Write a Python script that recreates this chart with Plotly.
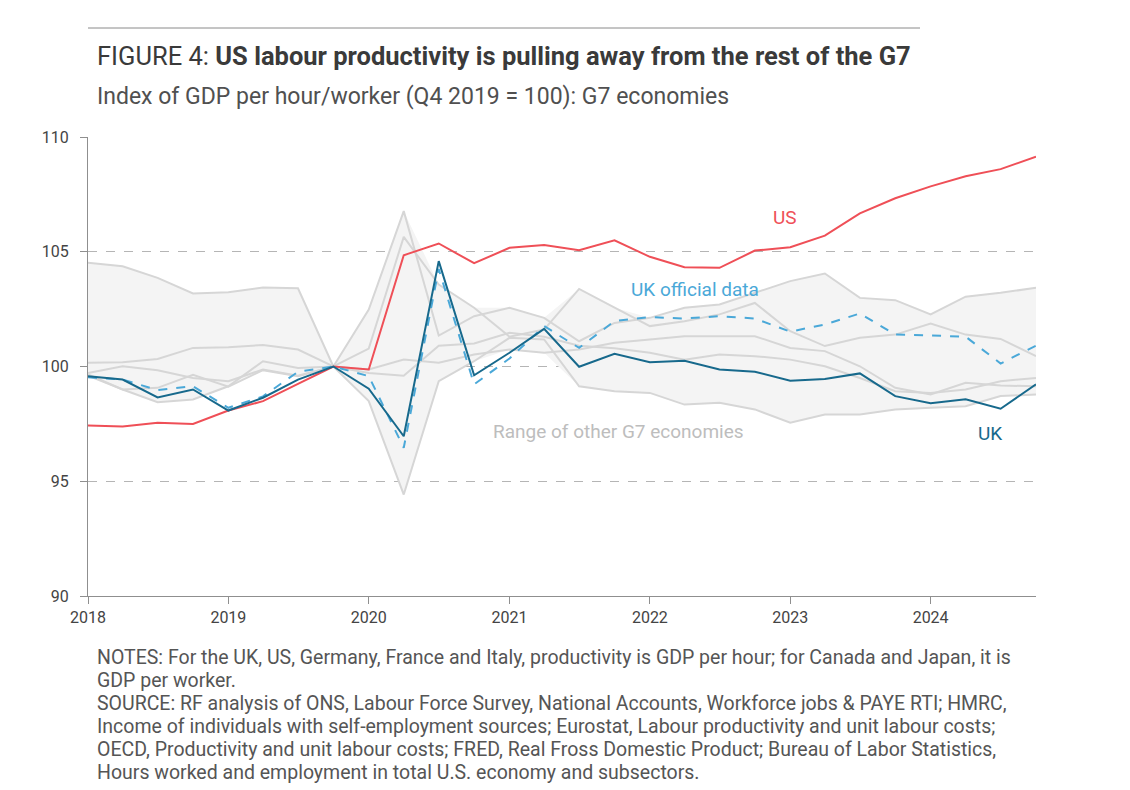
import numpy as np
import pandas as pd
import plotly.graph_objects as go

quarters = ["2018Q1","2018Q2","2018Q3","2018Q4","2019Q1","2019Q2","2019Q3","2019Q4",
            "2020Q1","2020Q2","2020Q3","2020Q4","2021Q1","2021Q2","2021Q3","2021Q4",
            "2022Q1","2022Q2","2022Q3","2022Q4","2023Q1","2023Q2","2023Q3","2023Q4",
            "2024Q1","2024Q2","2024Q3","2024Q4"]

us = [97.43,97.39,97.55,97.50,98.08,98.49,99.24,100.0,
      99.87,104.85,105.36,104.50,105.17,105.29,105.07,105.50,
      104.78,104.33,104.30,105.05,105.20,105.70,106.67,107.33,
      107.85,108.29,108.60,109.14]

uk = [99.58,99.43,98.65,99.00,98.08,98.64,99.43,100.0,
      99.03,96.96,104.59,99.62,100.60,101.64,99.99,100.55,
      100.19,100.25,99.87,99.77,99.38,99.46,99.70,98.71,
      98.40,98.57,98.16,99.22]

uk_official = [99.53,99.43,98.97,99.14,98.20,98.70,99.77,100.0,
               99.58,96.46,104.25,99.22,100.35,101.76,100.81,101.98,
               102.15,102.09,102.19,102.09,101.52,101.83,102.31,101.39,
               101.35,101.30,100.13,100.91]

other_a = [104.52,104.37,103.86,103.18,103.24,103.44,103.41,100.0,
           102.48,106.77,101.35,102.19,102.56,102.12,101.10,101.90,
           102.12,102.56,102.70,103.21,103.72,104.05,102.99,102.89,
           102.27,103.04,103.21,103.43]
other_b = [100.16,100.19,100.33,100.81,100.84,100.94,100.74,100.0,
           100.78,105.65,103.57,102.56,101.30,101.61,103.38,102.56,
           101.76,101.97,102.27,102.77,101.54,100.89,101.25,101.39,
           101.87,101.39,101.20,100.45]
other_c = [99.72,100.01,99.84,99.50,99.36,99.87,99.60,100.0,
           99.87,100.30,100.16,100.52,100.74,100.60,100.74,101.03,
           101.18,101.32,101.32,101.32,100.81,100.67,100.01,99.07,
           98.78,99.29,99.17,99.14]
other_d = [99.65,99.00,98.44,98.56,99.14,100.23,99.94,100.0,
           98.49,94.42,99.36,100.23,101.25,101.18,99.14,98.92,
           98.85,98.34,98.42,98.13,97.55,97.91,97.91,98.13,
           98.20,98.27,98.71,98.78]
other_e = [99.60,99.00,99.07,99.64,99.12,99.84,99.58,100.0,
           99.72,99.60,100.90,101.00,101.47,101.30,100.90,100.80,
           100.60,100.30,100.52,100.45,100.30,100.01,99.50,98.92,
           98.85,99.00,99.36,99.50]

year_ticks = [2018, 2019, 2020, 2021, 2022, 2023, 2024]
y_ticks = [90, 95, 100, 105, 110]

x = pd.PeriodIndex(quarters, freq="Q").to_timestamp()
others = np.array([other_a, other_b, other_c, other_d, other_e])
rng_max = others.max(axis=0)
rng_min = others.min(axis=0)

RED = "#ef4f57"
TEAL = "#17698c"
LBLUE = "#4aa8d8"
GREY_LINE = "#d6d6d6"
GREY_FILL = "#f4f4f4"
TXT = "#444444"
FONT = "Roboto"

fig = go.Figure()
fig.add_trace(go.Scatter(x=x, y=rng_max, mode="lines", line=dict(width=0), hoverinfo="skip", showlegend=False))
fig.add_trace(go.Scatter(x=x, y=rng_min, mode="lines", line=dict(width=0), fill="tonexty",
                         fillcolor=GREY_FILL, hoverinfo="skip", showlegend=False))
for s in others:
    fig.add_trace(go.Scatter(x=x, y=s, mode="lines", line=dict(color=GREY_LINE, width=2),
                             hoverinfo="skip", showlegend=False))
fig.add_trace(go.Scatter(x=x, y=us, mode="lines", line=dict(color=RED, width=2), showlegend=False))
fig.add_trace(go.Scatter(x=x, y=uk_official, mode="lines", line=dict(color=LBLUE, width=2, dash="dash"), showlegend=False))
fig.add_trace(go.Scatter(x=x, y=uk, mode="lines", line=dict(color=TEAL, width=2), showlegend=False))

W, H = 1130, 790
L, R, T, B = 88, 1036, 137, 596

def px(xp):
    return (xp - L) / (R - L)

def py(yp):
    return (B - yp) / (B - T)

ann = []
ann.append(dict(x=px(95), y=py(56), xref="paper", yref="paper", xanchor="left", yanchor="middle",
                text="FIGURE 4: <b>US labour productivity is pulling away from the rest of the G7</b>",
                showarrow=False, font=dict(family=FONT, size=25.5, color="#3a3a3a")))
ann.append(dict(x=px(95), y=py(97), xref="paper", yref="paper", xanchor="left", yanchor="middle",
                text="Index of GDP per hour/worker (Q4 2019 = 100): G7 economies",
                showarrow=False, font=dict(family=FONT, size=23, color="#505050")))
labels = [("US", 785, 217, RED), ("UK official data", 695, 289, LBLUE),
          ("Range of other G7 economies", 618, 431, "#bdbdbd"), ("UK", 990, 434, TEAL)]
for txt, lx, ly, col in labels:
    ann.append(dict(x=px(lx), y=py(ly), xref="paper", yref="paper", xanchor="center", yanchor="middle",
                    text=txt, showarrow=False, font=dict(family=FONT, size=19, color=col)))

notes = [
    "NOTES: For the UK, US, Germany, France and Italy, productivity is GDP per hour; for Canada and Japan, it is",
    "GDP per worker.",
    "SOURCE: RF analysis of ONS, Labour Force Survey, National Accounts, Workforce jobs & PAYE RTI; HMRC,",
    "Income of individuals with self-employment sources; Eurostat, Labour productivity and unit labour costs;",
    "OECD, Productivity and unit labour costs; FRED, Real Fross Domestic Product; Bureau of Labor Statistics,",
    "Hours worked and employment in total U.S. economy and subsectors.",
]
for k, line in enumerate(notes):
    ann.append(dict(x=px(95), y=py(657 + 23 * k), xref="paper", yref="paper", xanchor="left",
                    yanchor="middle", text=line, showarrow=False,
                    font=dict(family=FONT, size=19.5, color="#555555")))

fig.update_layout(
    width=W, height=H,
    margin=dict(l=L, r=W - R, t=T, b=H - B, pad=0),
    paper_bgcolor="white", plot_bgcolor="white",
    font=dict(family=FONT, size=16, color=TXT),
    annotations=ann,
    shapes=[dict(type="line", xref="paper", yref="paper", x0=px(88), x1=px(920), y0=py(28), y1=py(28),
                 line=dict(color="#8a8a8a", width=1))],
    hovermode=False,
)
fig.update_xaxes(
    type="date",
    range=[x[0], x[-1]],
    tickvals=[pd.Timestamp(f"{yv}-01-01") for yv in year_ticks],
    ticktext=[str(yv) for yv in year_ticks],
    showgrid=False, zeroline=False,
    showline=True, linecolor="#8f8f8f", linewidth=1,
    ticks="outside", ticklen=7, tickcolor="#8f8f8f",
    tickfont=dict(family=FONT, size=16, color=TXT),
)
fig.update_yaxes(
    range=[90, 110], tickvals=y_ticks,
    showgrid=True, gridcolor="#b5b5b5", griddash="dash", gridwidth=1,
    zeroline=False,
    showline=True, linecolor="#8f8f8f", linewidth=1,
    ticks="outside", ticklen=7, tickcolor="#8f8f8f",
    ticklabelstandoff=8,
    tickfont=dict(family=FONT, size=16, color=TXT),
)

fig.write_html("out.html")
